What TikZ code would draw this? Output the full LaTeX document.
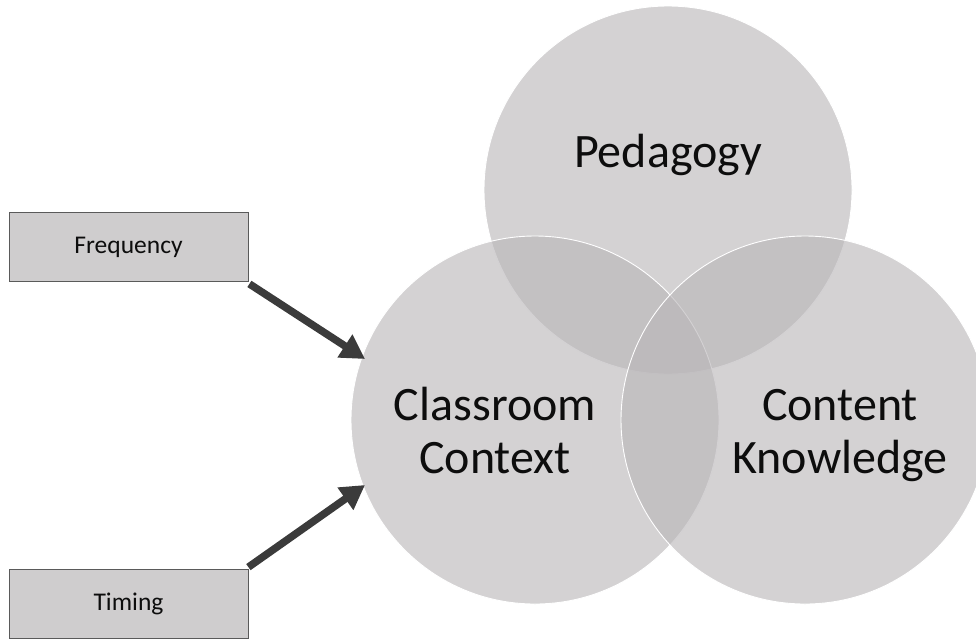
\documentclass[tikz,border=0pt]{standalone}
\usepackage{fontspec}
\setmainfont{Carlito}
\usetikzlibrary{arrows.meta}
\definecolor{vennfill}{RGB}{185,182,184}
\definecolor{boxfill}{RGB}{207,205,206}
\definecolor{boxline}{RGB}{90,90,90}
\definecolor{arrowcol}{RGB}{59,59,59}
\definecolor{txt}{RGB}{13,13,13}
\tikzset{
  venn/.style={circle, minimum size=368pt, inner sep=0pt, fill=vennfill, fill opacity=0.62, draw=white, draw opacity=1, line width=0.9pt},
  venntext/.style={font=\fontsize{48}{53}\selectfont, text=txt, align=center, inner sep=0pt},
  factorbox/.style={draw=boxline, fill=boxfill, line width=0.8pt, minimum width=239pt, minimum height=69pt, inner sep=0pt, font=\fontsize{25.5}{30}\selectfont, text=txt},
  bigarrow/.style={draw=arrowcol, line width=7.5pt, -{Triangle[length=24pt,width=26pt]}}
}
\begin{document}
\begin{tikzpicture}[x=1pt,y=-1pt]
\useasboundingbox (0,0) rectangle (976,640);
\clip (0,0) rectangle (976,640);
\node[venn] (P) at (668,190) {};
\node[venn] (C) at (535,420) {};
\node[venn] (K) at (805,420) {};
\node[venntext, anchor=base] (Pt) at (668,167) {Pedagogy};
\node[venntext, anchor=base] (Ct) at (495,473) {Classroom\\Context};
\node[venntext, anchor=base] (Kt) at (840,473) {Content\\Knowledge};
\node[factorbox] (F) at (128.5,247) {Frequency};
\node[factorbox] (T) at (128.5,604) {Timing};
\coordinate (tipF) at (365,359);
\coordinate (tipT) at (365,485);
\draw[bigarrow] ([xshift=1pt,yshift=-2pt]F.south east) -- (tipF);
\draw[bigarrow] ([xshift=0pt,yshift=2pt]T.north east) -- (tipT);
\end{tikzpicture}
\end{document}
